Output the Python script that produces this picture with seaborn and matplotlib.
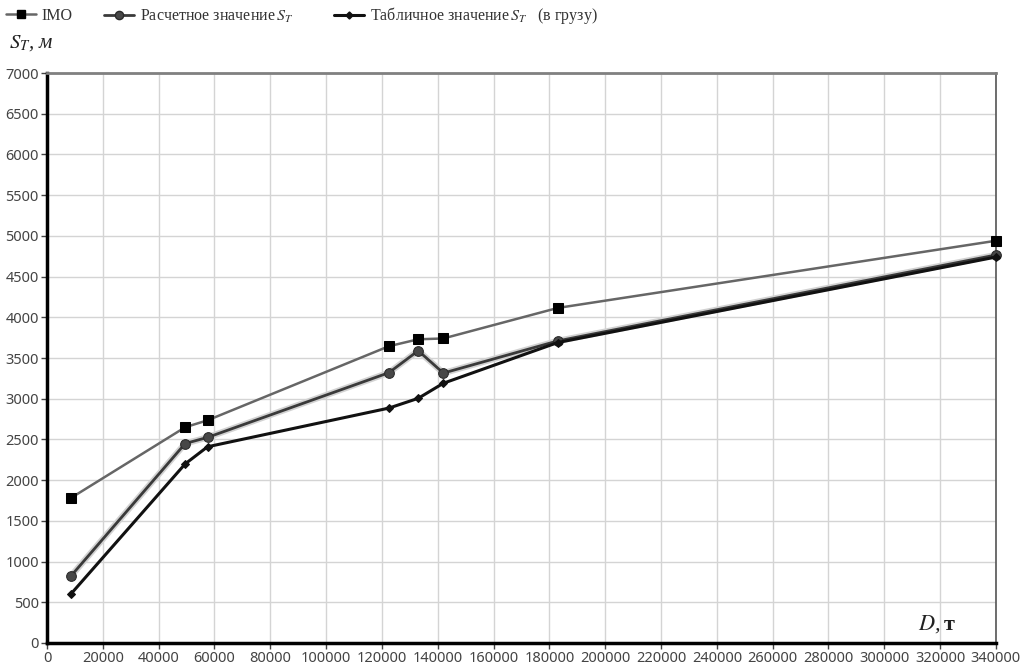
import matplotlib
matplotlib.use("Agg")
import matplotlib.pyplot as plt
import matplotlib.patheffects as pe
from matplotlib.lines import Line2D
import seaborn as sns

# Displacement D, t
displacement = [8500, 49500, 57500, 122500, 133000, 142000, 183000, 340000]
# Stopping distance S_T, m
s_imo = [1780, 2650, 2735, 3645, 3730, 3740, 4115, 4940]
s_calc = [820, 2450, 2525, 3320, 3590, 3315, 3710, 4765]
s_table = [600, 2200, 2410, 2885, 3005, 3190, 3690, 4740]

series_labels = ["IMO",
                 "Расчетное значение$\\,S_T$",
                 "Табличное значение$\\,S_T$   (в грузу)"]
x_ticks = list(range(0, 340001, 20000))
y_ticks = list(range(0, 7001, 500))

sns.set_style("whitegrid")
plt.rcParams['font.family'] = ['Noto Sans', 'DejaVu Sans']
plt.rcParams['mathtext.fontset'] = 'stix'

fig = plt.figure(figsize=(10.23, 6.70), dpi=100)
ax = fig.add_axes([0.046, 0.0403, 0.9275, 0.8507])

imo_style = dict(color="#666666", lw=1.8, marker="s", markersize=7,
                 markerfacecolor="black", markeredgecolor="black")
calc_style = dict(color="#3a3a3a", lw=2.0, marker="o", markersize=7,
                  markerfacecolor="#474747", markeredgecolor="#2a2a2a")
table_style = dict(color="#111111", lw=2.2, marker="D", markersize=4.2,
                   markerfacecolor="#111111", markeredgecolor="#111111")

sns.lineplot(x=displacement, y=s_imo, ax=ax, clip_on=False, zorder=3,
             **imo_style)
# calculated series: line with a soft grey halo, markers drawn on top
sns.lineplot(x=displacement, y=s_calc, ax=ax, color=calc_style["color"],
             lw=calc_style["lw"], zorder=4,
             path_effects=[pe.Stroke(linewidth=4.5, foreground="#d2d2d2"),
                           pe.Normal()])
sns.lineplot(x=displacement, y=s_calc, ax=ax, color=calc_style["color"],
             linestyle="", marker="o", markersize=7,
             markerfacecolor=calc_style["markerfacecolor"],
             markeredgecolor=calc_style["markeredgecolor"],
             clip_on=False, zorder=4.5)
sns.lineplot(x=displacement, y=s_table, ax=ax, clip_on=False, zorder=5,
             **table_style)

# legend entries placed one by one along the top edge
legend_x = [6, 104, 334]
for x0, style, label in zip(legend_x, [imo_style, calc_style, table_style],
                            series_labels):
    h = Line2D([], [], **style)
    lg = fig.legend([h], [label], loc="center left",
                    bbox_to_anchor=(x0 / 1023, 1 - 16 / 670),
                    frameon=False, handlelength=1.9, handletextpad=0.35,
                    borderpad=0, borderaxespad=0, markerscale=0.85,
                    prop={"family": "Liberation Serif", "size": 11.5})
    for t in lg.get_texts():
        t.set_color("#333333")

ax.set_xlim(0, 340000)
ax.set_ylim(0, 7000)
ax.set_xticks(x_ticks)
ax.set_xticklabels([str(v) for v in x_ticks])
ax.set_yticks(y_ticks)
ax.set_yticklabels([str(v) for v in y_ticks])
ax.tick_params(axis="both", labelsize=10.5, colors="#444444", length=4,
               width=1, direction="out", left=True, bottom=True, pad=2)
ax.tick_params(axis="both", labelcolor="#444444")
ax.grid(True, color="#d4d4d4", lw=1)
ax.set_xlabel("")
ax.set_ylabel("")

for side in ["left", "bottom"]:
    ax.spines[side].set_color("black")
    ax.spines[side].set_linewidth(2.5)
ax.spines["top"].set_color("#808080")
ax.spines["top"].set_linewidth(2.0)
ax.spines["right"].set_color("#555555")
ax.spines["right"].set_linewidth(1.2)

fig.text(9 / 1023, 1 - 48 / 670, r"$S_T$, м", family="Liberation Serif",
         style="italic", fontsize=15, va="baseline", color="#222222")
fig.text(918 / 1023, 1 - 630 / 670, r"$D$,", family="Liberation Serif",
         style="italic", fontsize=16, va="baseline", color="#222222")
fig.text(944 / 1023, 1 - 630 / 670, "т", family="Liberation Serif",
         weight="bold", fontsize=16, va="baseline", color="#222222")

fig.savefig("out.png", dpi=100, facecolor="white")
